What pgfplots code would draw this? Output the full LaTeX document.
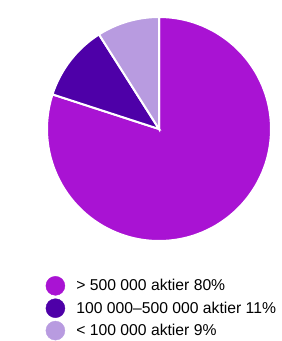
\documentclass[border=0pt]{standalone}
\usepackage{pgfplots}
\pgfplotsset{compat=1.18}
\usepackage{pgfplotstable}
\usepackage{fontspec}
\setmainfont{Liberation Sans}
\definecolor{cA}{HTML}{A913D3}
\definecolor{cB}{HTML}{4E00A8}
\definecolor{cC}{HTML}{B89BE0}
\pgfplotstableread{
label value
a 80
b 11
c 9
}\piedata
\begin{document}%
\begin{tikzpicture}[x=1bp,y=1bp]
\pgfplotstablegetelem{0}{value}\of\piedata \let\va\pgfplotsretval
\pgfplotstablegetelem{1}{value}\of\piedata \let\vb\pgfplotsretval
\pgfplotstablegetelem{2}{value}\of\piedata \let\vc\pgfplotsretval
\pgfmathsetmacro{\aA}{90}
\pgfmathsetmacro{\aB}{90-3.6*\va}
\pgfmathsetmacro{\aC}{\aB-3.6*\vb}
\pgfmathsetmacro{\aD}{\aC-3.6*\vc}
\begin{axis}[at={(159bp,212bp)}, anchor=origin, width=224bp, height=224bp,
  scale only axis, hide axis, xmin=-1,xmax=1,ymin=-1,ymax=1, clip=false,
  legend image code/.code={\fill[#1] (0bp,0bp) circle (9.5bp); \path[draw=none,fill=none] (-9.5bp,0bp) -- (20bp,0bp);},
  legend cell align=left,
  legend style={at={(-0.02,-0.147)}, anchor=north west, draw=none, fill=none,
    font=\fontsize{15.7bp}{19bp}\selectfont, row sep=3bp,
    nodes={inner sep=1bp}},
]
\fill[cA, draw=white, line width=2bp] (axis cs:0,0) -- (axis cs:{cos(\aA)},{sin(\aA)}) arc[start angle=\aA, end angle=\aB, radius=112bp] -- cycle;
\fill[cB, draw=white, line width=2bp] (axis cs:0,0) -- (axis cs:{cos(\aB)},{sin(\aB)}) arc[start angle=\aB, end angle=\aC, radius=112bp] -- cycle;
\fill[cC, draw=white, line width=2bp] (axis cs:0,0) -- (axis cs:{cos(\aC)},{sin(\aC)}) arc[start angle=\aC, end angle=\aD, radius=112bp] -- cycle;
\addlegendimage{cA}
\addlegendentry{> 500 000 aktier 80\%}
\addlegendimage{cB}
\addlegendentry{100 000–500 000 aktier 11\%}
\addlegendimage{cC}
\addlegendentry{< 100 000 aktier 9\%}
\end{axis}
\pgfresetboundingbox
\useasboundingbox (0,0) rectangle (282,341);
\end{tikzpicture}%
\end{document}
